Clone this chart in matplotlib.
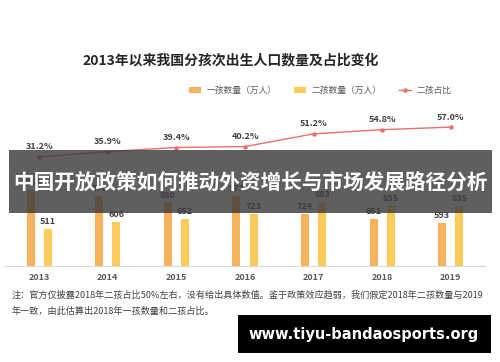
import matplotlib
matplotlib.use("Agg")
import matplotlib.pyplot as plt
from matplotlib.patches import Rectangle
import numpy as np

plt.rcParams['font.family'] = ['Noto Sans CJK SC', 'DejaVu Sans']

years = ['2013', '2014', '2015', '2016', '2017', '2018', '2019']
first_child = [1050, 970, 880, 973, 724, 651, 593]
second_child = [511, 606, 652, 723, 883, 835, 835]
second_share = [31.2, 35.9, 39.4, 40.2, 51.2, 54.8, 57.0]

c_first = '#F6B35B'
c_second = '#FBCB5C'
c_line = '#E8706A'
c_text = '#404040'

fig = plt.figure(figsize=(5, 3.62), dpi=100)
ax = fig.add_axes([0.01, 0.265, 0.96, 0.403])
x = np.arange(len(years))
w = 0.115
off = 0.125

b1 = ax.bar(x - off, first_child, w, color=c_first, label='一孩数量（万人）')
b2 = ax.bar(x + off, second_child, w, color=c_second, label='二孩数量（万人）')
for xi, v in zip(x, first_child):
    ax.annotate(str(v), (xi - off, v), xytext=(0, 2), textcoords='offset points',
                ha='center', va='bottom', fontsize=6.5, fontweight='bold', color=c_text)
for xi, v in zip(x, second_child):
    ax.annotate(str(v), (xi + off, v), xytext=(0, 2), textcoords='offset points',
                ha='center', va='bottom', fontsize=6.5, fontweight='bold', color=c_text)

ax.set_xlim(-0.5, 6.5)
ax.set_ylim(0, 2014)
ax.set_yticks([])
ax.set_xticks(x)
ax.set_xticklabels(years, fontsize=6.5, fontweight='bold', color='#595959')
ax.tick_params(axis='x', length=0, pad=5)
for s in ['top', 'left', 'right']:
    ax.spines[s].set_visible(False)
ax.spines['bottom'].set_color('#D9D9D9')

ax2 = ax.twinx()
ax2.plot(x, second_share, color=c_line, lw=1, marker='o', markersize=2.2, label='二孩占比')
for xi, v in zip(x, second_share):
    ax2.annotate(f'{v:.1f}%', (xi, v), xytext=(0, 4), textcoords='offset points',
                 ha='center', va='bottom', fontsize=6.5, fontweight='bold', color=c_text)
ax2.set_ylim(-63, 63)
ax2.set_yticks([])
ax2.set_xlim(-0.5, 6.5)
for s in ax2.spines.values():
    s.set_visible(False)

handles = [b1, b2, ax2.get_lines()[0]]
fig.legend(handles, [h.get_label() for h in handles], loc='center', bbox_to_anchor=(0.64, 0.749),
           ncol=3, frameon=False, fontsize=6.3, labelcolor='#595959', handlelength=1.4,
           columnspacing=2.0, handletextpad=0.6)

fig.text(0.462, 0.834, '2013年以来我国分孩次出生人口数量及占比变化', ha='center', va='center',
         fontsize=10, fontweight='bold', color='#262626')

note1 = '注：官方仅披露2018年二孩占比50%左右，没有给出具体数值。鉴于政策效应趋弱，我们假定2018年二孩数量与2019'
note2 = '年一致，由此估算出2018年一孩数量和二孩占比。'
fig.text(0.024, 0.185, note1, ha='left', va='center', fontsize=6.55, color='#404040')
fig.text(0.024, 0.141, note2, ha='left', va='center', fontsize=6.55, color='#404040')

# overlay banner across the chart
fig.add_artist(Rectangle((0.018, 1 - 213 / 362), 0.966, 63 / 362, transform=fig.transFigure,
                         facecolor='#3C3C3C', alpha=0.82, edgecolor='none', zorder=10))
fig.text(0.5, 1 - 182 / 362, '中国开放政策如何推动外资增长与市场发展路径分析', ha='center', va='center',
         fontsize=14.9, fontweight='bold', color='white', zorder=11)

# watermark box
fig.add_artist(Rectangle((238 / 500, 1 - 353 / 362), 253 / 500, 38 / 362, transform=fig.transFigure,
                         facecolor='black', edgecolor='none', zorder=10))
fig.text(364 / 500, 1 - 335 / 362, 'www.tiyu-bandaosports.org', ha='center', va='center',
         fontsize=10.5, fontweight='bold', color='white', family='DejaVu Sans', zorder=11)

fig.savefig('out.png', dpi=100, facecolor='white')
